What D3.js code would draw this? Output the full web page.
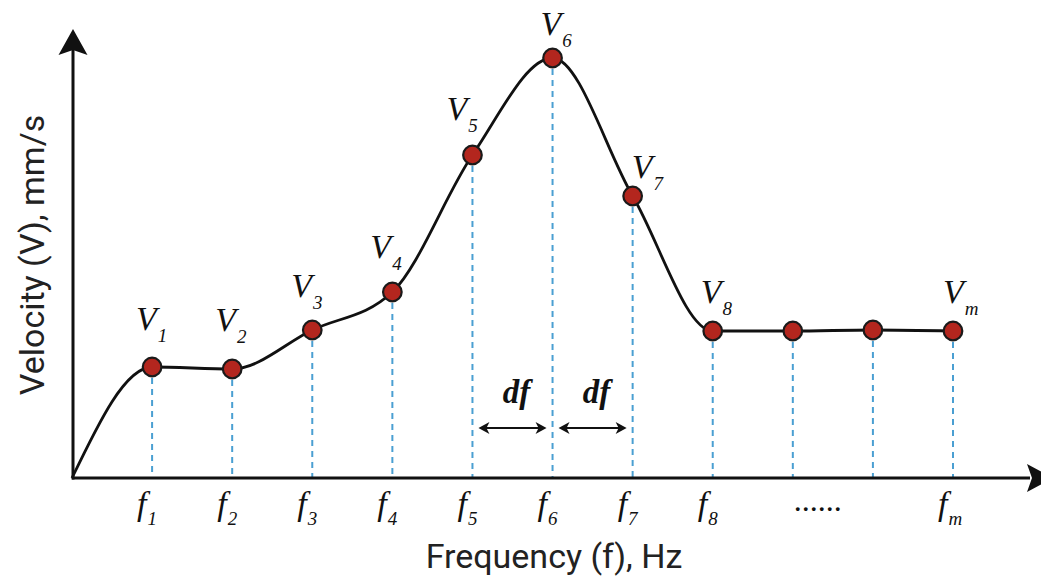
<!DOCTYPE html>
<html>
<head>
<meta charset="utf-8">
<script src="https://cdn.jsdelivr.net/npm/d3@7"></script>
<style>
  html, body { margin: 0; padding: 0; background: #fff; }
  svg { display: block; }
</style>
</head>
<body>
<svg id="chart" width="1041" height="577"></svg>
<script>
// ---------- data ----------
const freqIndex = [1, 2, 3, 4, 5, 6, 7, 8, 9, 10, 11];
const velocity  = [111, 109, 148, 186, 323, 420, 282, 147, 147, 148, 147];
const vSubs     = ["1", "2", "3", "4", "5", "6", "7", "8", "", "", "m"];
const fSubs     = ["1", "2", "3", "4", "5", "6", "7", "8", "", "", "m"];
const ellipsisAt = 9;
const ellipsisText = "......";
const dfSpans = [[5, 6], [6, 7]];
const xTitle = "Frequency (f), Hz";
const yTitle = "Velocity (V), mm/s";

// label placement (layout, not data): offset of V label relative to its point
const vLabelOffsets = [[-16, -37], [-17, -38], [-21, -33], [-22, -34], [-26, -35],
                       [-12, -23], [-1, -18], [-12, -28], null, null, [-10, -28]];

// ---------- layout ----------
const svg = d3.select("#chart");
const x = d3.scaleLinear().domain([0, 11]).range([72, 953]);
const y = d3.scaleLinear().domain([0, 449]).range([478, 29]);
const ink = "#111";

// dashed drop lines
svg.append("g").selectAll("line").data(freqIndex).join("line")
  .attr("x1", d => x(d)).attr("x2", d => x(d))
  .attr("y1", (d, i) => y(velocity[i])).attr("y2", y(0))
  .attr("stroke", "#4a9fd2").attr("stroke-width", 2)
  .attr("stroke-dasharray", "6,5");

// axes
svg.append("line").attr("x1", x(0)).attr("x2", 1030).attr("y1", y(0)).attr("y2", y(0))
  .attr("stroke", ink).attr("stroke-width", 3);
svg.append("line").attr("x1", x(0) + 1).attr("x2", x(0) + 1).attr("y1", y(0) + 1.5).attr("y2", y(430))
  .attr("stroke", ink).attr("stroke-width", 3);
// arrowheads
const ax = x(0) + 1, tipY = y(449);
svg.append("path")
  .attr("d", `M${ax},${tipY} L${ax + 14.5},${tipY + 26} L${ax},${tipY + 21} L${ax - 14.5},${tipY + 26} Z`)
  .attr("fill", ink);
const tipX = 1053, ay = y(0);
svg.append("path")
  .attr("d", `M${tipX},${ay} L${tipX - 26},${ay - 14} L${tipX - 21},${ay} L${tipX - 26},${ay + 14} Z`)
  .attr("fill", ink);

// curve
const pts = [[0, 0]].concat(freqIndex.map((f, i) => [f, velocity[i]]));
const line = d3.line().x(d => x(d[0])).y(d => y(d[1])).curve(d3.curveMonotoneX);
svg.append("path").attr("d", line(pts))
  .attr("fill", "none").attr("stroke", ink).attr("stroke-width", 2.8);

// points
svg.append("g").selectAll("circle").data(freqIndex).join("circle")
  .attr("cx", d => x(d)).attr("cy", (d, i) => y(velocity[i]))
  .attr("r", 9.3).attr("fill", "#b3261e").attr("stroke", "#1a1a1a").attr("stroke-width", 2.2);

// V labels
const serif = "'Liberation Serif', 'Times New Roman', serif";
freqIndex.forEach((f, i) => {
  if (!vSubs[i]) return;
  const off = vLabelOffsets[i];
  const t = svg.append("text")
    .attr("x", x(f) + off[0]).attr("y", y(velocity[i]) + off[1])
    .attr("font-family", serif).attr("font-style", "italic").attr("font-size", 34)
    .attr("fill", ink);
  t.append("tspan").text("V");
  t.append("tspan").attr("dx", 1).attr("dy", 12).attr("font-size", 19).text(vSubs[i]);
});

// f tick labels
freqIndex.forEach((f, i) => {
  if (!fSubs[i]) return;
  const t = svg.append("text")
    .attr("x", x(f) - 15).attr("y", 515)
    .attr("font-family", serif).attr("font-style", "italic").attr("font-size", 34)
    .attr("fill", ink);
  t.append("tspan").text("f");
  t.append("tspan").attr("dx", 1).attr("dy", 10).attr("font-size", 19).text(fSubs[i]);
});
svg.append("text").attr("x", x(ellipsisAt) + 1).attr("y", 511)
  .attr("text-anchor", "start").attr("font-family", serif).attr("font-size", 32)
  .attr("fill", ink).text(ellipsisText);

// df arrows
const arrowY = 428;
dfSpans.forEach(([a, b]) => {
  const x1 = x(a) + 6, x2 = x(b) - 6;
  svg.append("line").attr("x1", x1 + 6).attr("x2", x2 - 6).attr("y1", arrowY).attr("y2", arrowY)
    .attr("stroke", ink).attr("stroke-width", 1.8);
  svg.append("path").attr("d", `M${x1},${arrowY} L${x1 + 11},${arrowY - 6} L${x1 + 8},${arrowY} L${x1 + 11},${arrowY + 6} Z`).attr("fill", ink);
  svg.append("path").attr("d", `M${x2},${arrowY} L${x2 - 11},${arrowY - 6} L${x2 - 8},${arrowY} L${x2 - 11},${arrowY + 6} Z`).attr("fill", ink);
  svg.append("text").attr("x", (x(a) + x(b)) / 2 + 4).attr("y", 403)
    .attr("text-anchor", "middle").attr("font-family", serif)
    .attr("font-style", "italic").attr("font-weight", "bold").attr("font-size", 33)
    .attr("fill", ink).text("df");
});

// axis titles
svg.append("text").attr("x", 554).attr("y", 568).attr("text-anchor", "middle")
  .attr("font-family", "Roboto, sans-serif").attr("font-size", 34).attr("fill", "#222")
  .text(xTitle);
svg.append("text").attr("transform", "translate(44,255) rotate(-90)").attr("text-anchor", "middle")
  .attr("font-family", "Roboto, sans-serif").attr("font-size", 34).attr("fill", "#222")
  .text(yTitle);
</script>
</body>
</html>
